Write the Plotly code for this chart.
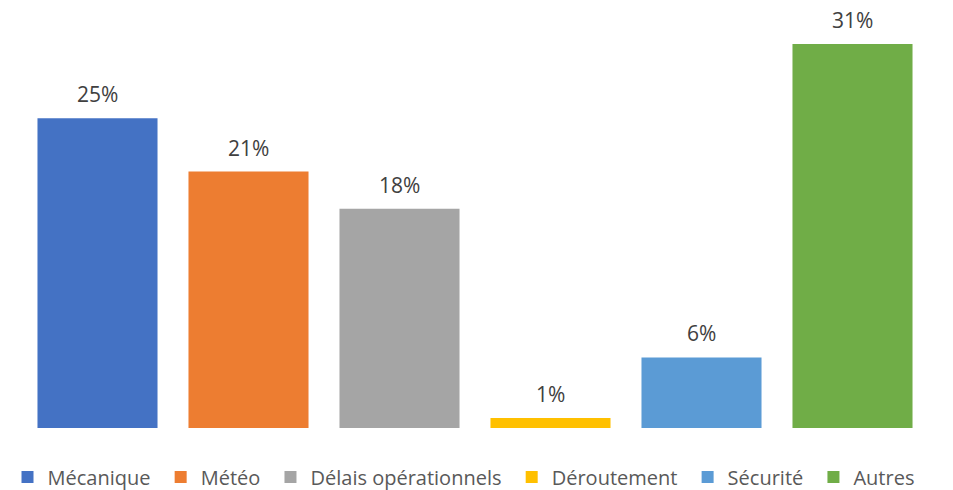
import plotly.graph_objects as go

categories = ["Mécanique", "Météo", "Délais opérationnels", "Déroutement", "Sécurité", "Autres"]
values = [25.0, 20.7, 17.7, 0.8, 5.7, 31.0]
colors = ["#4472C4", "#ED7D31", "#A5A5A5", "#FFC000", "#5B9BD5", "#70AD47"]

FONT = "Open Sans"

fig = go.Figure()
for i, (cat, val, col) in enumerate(zip(categories, values, colors)):
    label = cat + ("\u00a0" if i < len(categories) - 1 else "")
    fig.add_trace(go.Bar(x=[cat], y=[val], name=label, marker=dict(color=col, line=dict(width=0)),
                         hoverinfo="skip"))

for cat, val in zip(categories, values):
    fig.add_annotation(x=cat, y=val, text=f"{round(val)}%", showarrow=False,
                       yanchor="bottom", yshift=8,
                       font=dict(family=FONT, size=21, color="#404040"))

fig.update_layout(
    width=953, height=490,
    margin=dict(l=13.5, r=32.5, t=2, b=70, autoexpand=False),
    paper_bgcolor="white", plot_bgcolor="white",
    barmode="relative", bargap=0.205,
    showlegend=True,
    legend=dict(orientation="h", x=-0.016, xanchor="left",
                y=-0.117, yanchor="middle",
                font=dict(family=FONT, size=20, color="#595959"),
                itemclick=False, traceorder="normal"),
    xaxis=dict(showticklabels=False, showgrid=False, zeroline=False, showline=False,
               categoryorder="array", categoryarray=categories),
    yaxis=dict(range=[0, 33.74], visible=False, showgrid=False, zeroline=False),
)

fig.write_html("out.html")
